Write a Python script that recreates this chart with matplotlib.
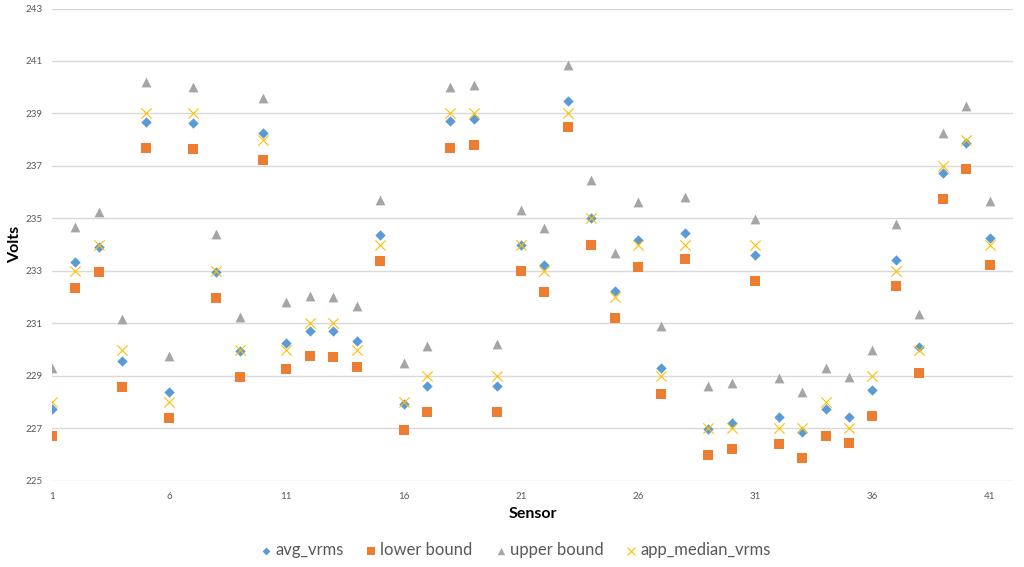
import matplotlib
matplotlib.use("Agg")
import matplotlib.pyplot as plt
import numpy as np

plt.rcParams['font.family'] = ['Lato', 'DejaVu Sans']

sensors = list(range(1, 42))
avg_vrms = [227.72, 233.33, 233.92, 229.57, 238.69, 228.37, 238.62, 232.95, 229.95, 238.24,
            230.27, 230.72, 230.70, 230.32, 234.36, 227.93, 228.62, 238.71, 238.80, 228.61,
            233.98, 233.22, 239.47, 235.01, 232.23, 234.16, 229.31, 234.44, 226.97, 227.22,
            233.60, 227.43, 226.85, 227.72, 227.43, 228.47, 233.43, 230.09, 236.74, 237.87,
            234.25]
lower_bound = [226.70, 232.33, 232.94, 228.57, 237.70, 227.38, 237.63, 231.97, 228.95, 237.23,
               229.27, 229.74, 229.71, 229.33, 233.37, 226.94, 227.62, 237.70, 237.78, 227.62,
               232.98, 232.20, 238.48, 234.00, 231.22, 233.16, 228.29, 233.45, 225.98, 226.23,
               232.61, 226.41, 225.88, 226.70, 226.44, 227.46, 232.43, 229.09, 235.73, 236.88,
               233.24]
upper_bound = [229.31, 234.67, 235.26, 231.15, 240.19, 229.74, 239.99, 234.39, 231.26, 239.60,
               231.80, 232.06, 232.02, 231.67, 235.72, 229.48, 230.13, 240.01, 240.07, 230.20,
               235.33, 234.64, 240.83, 236.45, 233.68, 235.62, 230.89, 235.80, 228.62, 228.74,
               234.98, 228.90, 228.40, 229.29, 228.95, 229.99, 234.79, 231.36, 238.24, 239.27,
               235.65]
app_median_vrms = [228, 233, 234, 230, 239, 228, 239, 233, 230, 238,
                   230, 231, 231, 230, 234, 228, 229, 239, 239, 229,
                   234, 233, 239, 235, 232, 234, 229, 234, 227, 227,
                   234, 227, 227, 228, 227, 229, 233, 230, 237, 238,
                   234]
x_ticks = [1, 6, 11, 16, 21, 26, 31, 36, 41]
y_ticks = [225, 227, 229, 231, 233, 235, 237, 239, 241, 243]

fig = plt.figure(figsize=(10.24, 5.67), dpi=100)
ax = fig.add_axes([0.0508, 0.152, 0.9385, 0.833])

ax.scatter(sensors, avg_vrms, marker='D', s=28, color='#5B9BD5', label='avg_vrms', zorder=3, linewidths=0)
ax.scatter(sensors, lower_bound, marker='s', s=52, color='#ED7D31', label='lower bound', zorder=3, linewidths=0)
ax.scatter(sensors, upper_bound, marker='^', s=50, color='#A5A5A5', label='upper bound', zorder=3, linewidths=0)
ax.scatter(sensors, app_median_vrms, marker='x', s=55, color='#FFC000', label='app_median_vrms', zorder=4, linewidths=0.8)

ax.set_xlim(1, 42)
ax.set_ylim(225, 243)
ax.set_xticks(x_ticks)
ax.set_yticks(y_ticks)
ax.grid(axis='y', color='#D9D9D9', linewidth=1)
ax.set_axisbelow(True)
for s in ax.spines.values():
    s.set_visible(False)
ax.tick_params(axis='both', length=0, labelsize=7, labelcolor='#595959')
ax.tick_params(axis='y', pad=7)
ax.tick_params(axis='x', pad=8)

ax.set_ylabel('Volts', fontsize=11.5, fontweight='bold', color='black', va='center')
ax.yaxis.set_label_coords(-0.0385, 0.5)
ax.set_xlabel('Sensor', fontsize=11.5, fontweight='bold', color='black', va='center')
ax.xaxis.set_label_coords(0.5, -0.07)

leg = fig.legend(loc='center', bbox_to_anchor=(0.503, 0.03), ncol=4, frameon=False,
                 fontsize=12, handletextpad=0.14, columnspacing=1.28,
                 handlelength=0.8, markerscale=0.75)
for t in leg.get_texts():
    t.set_color('#595959')

fig.savefig('out.png', dpi=100)
